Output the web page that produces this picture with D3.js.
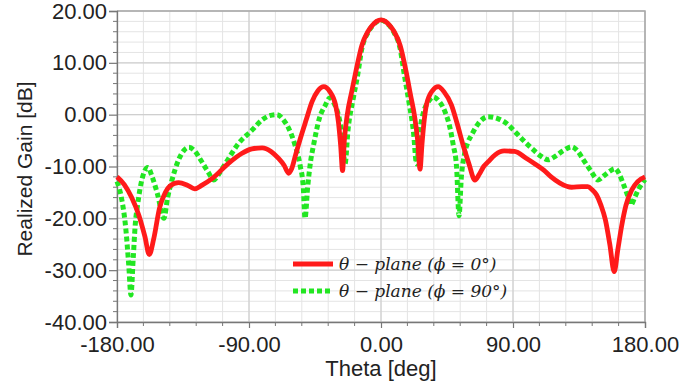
<!DOCTYPE html>
<html>
<head>
<meta charset="utf-8">
<script src="https://cdn.jsdelivr.net/npm/d3@7"></script>
<style>
  html, body { margin: 0; padding: 0; background: #fff; }
  svg { display: block; }
</style>
</head>
<body>
<svg id="chart" width="700" height="391"></svg>
<script>
// Realized gain cuts of the antenna pattern, theta in degrees, gain in dB.
const thetaPhi0 = [-180,-175,-170,-165,-161,-158,-155,-151,-147,-144,-138,-132,-127,-122,-115,-104,-95,-88,-81,-75,-70,-66,-63,-61,-58,-55,-51,-47,-43,-39,-35,-31,-29,-27.5,-26.2,-25,-23,-20,-17,-13,-9,-6,-3,0,3,6,9,13,17,20,23,25,26.6,28,29.5,31,35,39,43,48,52,56,60,64,67,70,73,78,84,91,99,105,111,116,122,130,137,141,144,147,150,153,156,159,161.5,164,167,171,175,180];
const gainPhi0 = [-12.0,-13.5,-16.0,-19.5,-23.5,-27.0,-24.0,-18.0,-15.0,-13.8,-13.1,-13.6,-14.3,-13.6,-12.3,-9.4,-7.5,-6.6,-6.4,-7.1,-8.4,-9.8,-11.3,-10.5,-7.5,-4.6,-1.0,2.5,4.6,5.4,4.5,1.9,-1.5,-6.0,-10.8,-5.0,0.0,4.4,8.5,13.4,16.0,17.2,18.0,18.3,18.0,17.2,16.0,13.4,8.5,4.0,-0.5,-5.0,-10.5,-5.5,-1.0,1.9,4.6,5.4,4.4,1.9,-1.8,-5.9,-9.5,-12.6,-11.5,-10.0,-9.1,-7.7,-7.0,-7.1,-8.4,-9.5,-10.7,-12.0,-13.2,-14.0,-13.9,-13.9,-14.5,-15.5,-17.5,-20.3,-25.0,-30.3,-26.0,-21.6,-17.5,-14.5,-12.9,-12.0];

const thetaPhi90 = [-180,-177,-174,-172,-170.5,-169,-167.5,-166,-163,-159,-156,-152.5,-148,-145.5,-142.5,-138,-131,-127,-123,-118,-114,-110,-106,-97,-88,-81,-76,-71,-66,-63,-58.6,-55.2,-53,-51.8,-50,-48,-46,-42,-38,-35,-32,-29,-26.5,-24.5,-22.5,-19,-16,-13,-9,-6,-3,0,3,6,9,13,16,19,22,24.3,26.5,29,32.3,35.7,39.5,43.6,47,49.3,51.5,53.2,54.8,56.8,59,61.8,66.4,73,80,87,91.4,99,104,109,114,119,124,130,134,138,143,148,152,156,159.5,162.5,165,168,170.3,173,175.4,180];
const gainPhi90 = [-12.9,-16.0,-22.0,-29.0,-34.8,-28.0,-21.0,-17.5,-12.5,-10.2,-12.0,-15.2,-20.0,-16.0,-12.6,-8.7,-6.3,-7.0,-8.7,-11.0,-12.6,-11.2,-9.4,-5.5,-3.0,-1.0,-0.2,0.0,-1.2,-2.6,-5.9,-9.7,-14.0,-20.0,-14.0,-9.0,-5.9,-0.7,1.8,3.2,2.2,-0.1,-4.0,-9.5,-3.0,3.0,7.5,12.8,15.8,17.1,17.9,18.2,17.9,17.1,15.8,12.8,7.5,2.5,-3.0,-9.5,-3.0,0.5,2.5,3.4,2.6,0.6,-2.5,-5.9,-10.0,-19.5,-12.0,-7.8,-5.5,-3.9,-1.7,-0.4,-0.8,-2.0,-3.3,-5.5,-6.8,-8.0,-8.7,-8.0,-7.0,-6.2,-7.0,-8.7,-10.8,-12.6,-11.8,-10.9,-10.4,-11.5,-13.2,-15.5,-17.4,-16.0,-14.5,-12.5];

const xTicks = [-180, -90, 0, 90, 180];
const yTicks = [-40, -30, -20, -10, 0, 10, 20];
const seriesLabels = ["θ − plane (ϕ = 0°)", "θ − plane (ϕ = 90°)"];
const xTitle = "Theta [deg]";
const yTitle = "Realized Gain [dB]";

const W = 700, H = 391;
const m = { left: 117, right: 55, top: 11, bottom: 69 };
const svg = d3.select("#chart");

const x = d3.scaleLinear().domain([-180, 180]).range([m.left, W - m.right]);
const y = d3.scaleLinear().domain([-40, 20]).range([H - m.bottom, m.top]);

const minorX = d3.range(-180, 180.001, 18);
const minorY = d3.range(-40, 20.001, 2);

// two decimals with a plain hyphen for negatives
const fmt = d => d.toFixed(2);

// grid: light minor lines, slightly darker major lines
const grid = svg.append("g");
grid.selectAll(".gxm").data(minorX).join("line")
  .attr("x1", d => x(d)).attr("x2", d => x(d))
  .attr("y1", y(-40)).attr("y2", y(20))
  .attr("stroke", "#e4e4e4").attr("stroke-width", 1);
grid.selectAll(".gym").data(minorY).join("line")
  .attr("x1", x(-180)).attr("x2", x(180))
  .attr("y1", d => y(d)).attr("y2", d => y(d))
  .attr("stroke", "#e4e4e4").attr("stroke-width", 1);
grid.selectAll(".gx").data(xTicks).join("line")
  .attr("x1", d => x(d)).attr("x2", d => x(d))
  .attr("y1", y(-40)).attr("y2", y(20))
  .attr("stroke", "#cfcfcf").attr("stroke-width", 1.2);
grid.selectAll(".gy").data(yTicks).join("line")
  .attr("x1", x(-180)).attr("x2", x(180))
  .attr("y1", d => y(d)).attr("y2", d => y(d))
  .attr("stroke", "#cfcfcf").attr("stroke-width", 1.2);

// plot frame on top and right
svg.append("path")
  .attr("d", `M${x(-180)},${y(20)}H${x(180)}V${y(-40)}`)
  .attr("fill", "none").attr("stroke", "#a8a8a8").attr("stroke-width", 1.5);

// axes
const fontSans = "'Liberation Sans', Arial, sans-serif";
const xAxis = svg.append("g").attr("transform", `translate(0,${y(-40)})`)
  .call(d3.axisBottom(x).tickValues(xTicks).tickFormat(fmt).tickSize(6).tickPadding(8));
const yAxis = svg.append("g").attr("transform", `translate(${x(-180)},0)`)
  .call(d3.axisLeft(y).tickValues(yTicks).tickFormat(fmt).tickSize(8).tickPadding(2));
[xAxis, yAxis].forEach(g => {
  g.select(".domain").attr("stroke", "#777").attr("stroke-width", 1.3);
  g.selectAll(".tick line").attr("stroke", "#777").attr("stroke-width", 1.2);
  g.selectAll("text").attr("font-family", fontSans).attr("font-size", 22).attr("fill", "#222");
});
// minor ticks
svg.append("g").selectAll("line").data(minorX.filter(d => !xTicks.includes(d))).join("line")
  .attr("x1", d => x(d)).attr("x2", d => x(d))
  .attr("y1", y(-40)).attr("y2", y(-40) + 4)
  .attr("stroke", "#777").attr("stroke-width", 1);
svg.append("g").selectAll("line").data(minorY.filter(d => !yTicks.includes(d))).join("line")
  .attr("x1", x(-180) - 4).attr("x2", x(-180))
  .attr("y1", d => y(d)).attr("y2", d => y(d))
  .attr("stroke", "#777").attr("stroke-width", 1);

// axis titles
svg.append("text").attr("x", x(0)).attr("y", 376).attr("text-anchor", "middle")
  .attr("font-family", fontSans).attr("font-size", 22).attr("fill", "#222").text(xTitle);
svg.append("text").attr("transform", `translate(32,169) rotate(-90)`)
  .attr("text-anchor", "middle")
  .attr("font-family", fontSans).attr("font-size", 21).attr("fill", "#222").text(yTitle);

// curves
const line = d3.line().x(d => x(d[0])).y(d => y(d[1])).curve(d3.curveMonotoneX);
const red = "#ff1a1a", green = "#22e622";
svg.append("path").datum(d3.zip(thetaPhi90, gainPhi90)).attr("d", line)
  .attr("fill", "none").attr("stroke", green).attr("stroke-width", 5)
  .attr("stroke-dasharray", "5,3");
svg.append("path").datum(d3.zip(thetaPhi0, gainPhi0)).attr("d", line)
  .attr("fill", "none").attr("stroke", red).attr("stroke-width", 4.8)
  .attr("stroke-linejoin", "round");

// legend
const lg = svg.append("g");
const rows = [
  { label: seriesLabels[0], color: red, dash: null, w: 4.8, yy: 264 },
  { label: seriesLabels[1], color: green, dash: "5,3", w: 5, yy: 291 }
];
rows.forEach(r => {
  lg.append("line").attr("x1", 293).attr("x2", 333).attr("y1", r.yy).attr("y2", r.yy)
    .attr("stroke", r.color).attr("stroke-width", r.w)
    .attr("stroke-dasharray", r.dash);
  lg.append("text").attr("x", 339).attr("y", r.yy + 6)
    .attr("font-family", "'DejaVu Serif', 'Liberation Serif', serif")
    .attr("font-style", "italic").attr("font-size", 17).attr("fill", "#222")
    .text(r.label);
});
</script>
</body>
</html>
